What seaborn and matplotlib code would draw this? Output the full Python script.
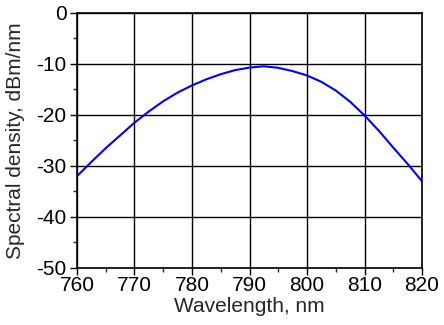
import matplotlib
matplotlib.use("Agg")
import matplotlib.pyplot as plt
import numpy as np
import pandas as pd
import seaborn as sns
from matplotlib.ticker import MultipleLocator

# values
wavelength = [760, 762.5, 765, 767.5, 770, 772.5, 775, 777.5, 780, 782.5, 785,
              787.5, 790, 792.5, 795, 797.5, 800, 802.5, 805, 807.5, 810,
              812.5, 815, 817.5, 820]
density = [-32.0, -29.2, -26.5, -24.0, -21.5, -19.3, -17.3, -15.6, -14.2, -13.0, -12.0,
           -11.2, -10.7, -10.45, -10.75, -11.4, -12.25, -13.5, -15.2, -17.4, -20.1,
           -23.1, -26.4, -29.6, -33.0]

data1 = pd.DataFrame({"wl": wavelength, "sd": density})

sns.set_style("ticks")
plt.rcParams['font.family'] = ['Liberation Sans', 'DejaVu Sans']
plt.rcParams['axes.unicode_minus'] = False

fig = plt.figure(figsize=(4.44, 3.25), dpi=100)
ax = fig.add_axes([0.1734, 0.1754, 0.7771, 0.7846])

sns.lineplot(data=data1, x="wl", y="sd", color="#0000ff", linewidth=1.5, ax=ax)

ax.set_xlim(760, 820)
ax.set_ylim(-50, 0)
ax.xaxis.set_major_locator(MultipleLocator(10))
ax.xaxis.set_minor_locator(MultipleLocator(5))
ax.yaxis.set_major_locator(MultipleLocator(10))
ax.yaxis.set_minor_locator(MultipleLocator(5))
ax.grid(True, which="major", color="black", linewidth=1.0)
ax.set_axisbelow(True)
for s in ax.spines.values():
    s.set_color("black")
    s.set_linewidth(1.2)
ax.tick_params(which="major", direction="out", length=5, width=1.0, labelsize=15, colors="black")
ax.tick_params(axis="x", which="major", pad=1)
ax.tick_params(axis="y", which="major", pad=2.5)
ax.tick_params(which="minor", direction="out", length=3, width=1.0)
ax.set_xlabel("Wavelength, nm", fontsize=15, labelpad=1)
ax.set_ylabel("Spectral density, dBm/nm", fontsize=15, labelpad=8)

fig.savefig("out.png", dpi=100)
